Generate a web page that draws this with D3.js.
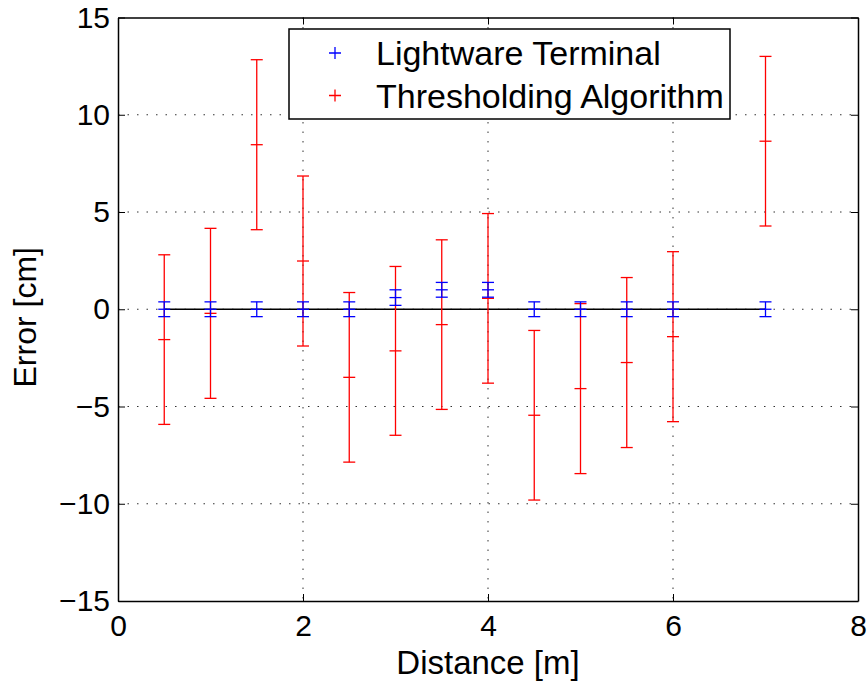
<!DOCTYPE html>
<html>
<head>
<meta charset="utf-8">
<script src="https://cdn.jsdelivr.net/npm/d3@7"></script>
<style>
    body { margin: 0; background: #fff; }
    text { font-family: "Liberation Sans", Arial, Helvetica, sans-serif; fill: #000; }
</style>
</head>
<body>
<div id="chart"></div>
<script>
// distances [m]
var distances = [0.5, 1, 1.5, 2, 2.5, 3, 3.5, 4, 4.5, 5, 5.5, 6, 7];

// Lightware Terminal: mean error and error bar half length [cm]
var lightwareMean = [0, 0, 0, 0, 0, 0.6, 1.0, 1.0, 0, 0, 0, 0, 0];
var lightwareErr = [0.38, 0.38, 0.38, 0.38, 0.38, 0.4, 0.38, 0.38, 0.38, 0.38, 0.38, 0.38, 0.38];

// Thresholding Algorithm
var threshMean = [-1.56, -0.21, 8.46, 2.48, -3.5, -2.14, -0.79, 0.56, -5.45, -4.08, -2.74, -1.41, 8.64];
var threshErr = [4.36, 4.37, 4.37, 4.37, 4.36, 4.34, 4.36, 4.36, 4.36, 4.37, 4.37, 4.37, 4.36];

var xTicks = [0, 2, 4, 6, 8];
var yTicks = [-15, -10, -5, 0, 5, 10, 15];

var seriesNames = ["Lightware Terminal", "Thresholding Algorithm"];
var seriesColors = ["#0000ff", "#ff0000"];

var width = 867, height = 683;
var margin = {top: 17.5, right: 9, bottom: 82, left: 118};

var svg = d3.select("#chart")
    .append("svg")
    .attr("width", width)
    .attr("height", height);

var x = d3.scaleLinear()
    .domain([0, 8])
    .range([margin.left, width - margin.right]);

var y = d3.scaleLinear()
    .domain([-15, 15])
    .range([height - margin.bottom, margin.top]);

// dotted grid
svg.append("g")
    .selectAll("line")
    .data(xTicks.slice(1, -1))
    .enter().append("line")
    .attr("x1", function (d) { return x(d); })
    .attr("x2", function (d) { return x(d); })
    .attr("y1", y(15))
    .attr("y2", y(-15))
    .attr("stroke", "#333")
    .attr("stroke-width", 1)
    .attr("stroke-dasharray", "1.5,8");

svg.append("g")
    .selectAll("line")
    .data(yTicks.slice(1, -1))
    .enter().append("line")
    .attr("x1", x(0))
    .attr("x2", x(8))
    .attr("y1", function (d) { return y(d); })
    .attr("y2", function (d) { return y(d); })
    .attr("stroke", "#333")
    .attr("stroke-width", 1)
    .attr("stroke-dasharray", "1.5,8");

// axes with inward ticks on all four sides
var tickLen = 7;
svg.append("g")
    .attr("transform", "translate(0," + y(-15) + ")")
    .call(d3.axisBottom(x).tickValues(xTicks).tickSizeInner(-tickLen).tickSizeOuter(0).tickPadding(14))
    .call(function (g) {
        g.select(".domain").attr("stroke-width", 1.5);
        g.selectAll("text").style("font-size", "30px");
    });

svg.append("g")
    .attr("transform", "translate(0," + y(15) + ")")
    .call(d3.axisTop(x).tickValues(xTicks).tickSizeInner(-tickLen).tickSizeOuter(0).tickFormat(""))
    .call(function (g) { g.select(".domain").attr("stroke-width", 1.5); });

svg.append("g")
    .attr("transform", "translate(" + x(0) + ",0)")
    .call(d3.axisLeft(y).tickValues(yTicks).tickSizeInner(-tickLen).tickSizeOuter(0).tickPadding(8)
        .tickFormat(function (d) { return d < 0 ? "\u2212" + Math.abs(d) : d; }))
    .call(function (g) {
        g.select(".domain").attr("stroke-width", 1.5);
        g.selectAll("text").style("font-size", "30px");
    });

svg.append("g")
    .attr("transform", "translate(" + x(8) + ",0)")
    .call(d3.axisRight(y).tickValues(yTicks).tickSizeInner(-tickLen).tickSizeOuter(0).tickFormat(""))
    .call(function (g) { g.select(".domain").attr("stroke-width", 1.5); });

// zero reference line
svg.append("line")
    .attr("x1", x(d3.min(distances)))
    .attr("x2", x(d3.max(distances)))
    .attr("y1", y(0))
    .attr("y2", y(0))
    .attr("stroke", "#000")
    .attr("stroke-width", 1.6);

// error bars
var cap = 6;
function drawErrorBars(means, errs, color) {
    var rows = distances.map(function (d, i) {
        return {x: d, m: means[i], e: errs[i]};
    });
    var g = svg.append("g")
        .attr("stroke", color)
        .attr("stroke-width", 1.3)
        .attr("fill", "none");
    var bars = g.selectAll("g")
        .data(rows)
        .enter().append("g");
    bars.append("line")
        .attr("x1", function (d) { return x(d.x); })
        .attr("x2", function (d) { return x(d.x); })
        .attr("y1", function (d) { return y(d.m - d.e); })
        .attr("y2", function (d) { return y(d.m + d.e); });
    [-1, 0, 1].forEach(function (k) {
        bars.append("line")
            .attr("x1", function (d) { return x(d.x) - cap; })
            .attr("x2", function (d) { return x(d.x) + cap; })
            .attr("y1", function (d) { return y(d.m + k * d.e); })
            .attr("y2", function (d) { return y(d.m + k * d.e); });
    });
}
drawErrorBars(threshMean, threshErr, seriesColors[1]);
drawErrorBars(lightwareMean, lightwareErr, seriesColors[0]);

// axis labels
svg.append("text")
    .attr("x", (x(0) + x(8)) / 2)
    .attr("y", 674)
    .attr("text-anchor", "middle")
    .style("font-size", "33px")
    .text("Distance [m]");

svg.append("text")
    .attr("transform", "translate(36," + (y(0) + 8) + ") rotate(-90)")
    .attr("text-anchor", "middle")
    .style("font-size", "32px")
    .text("Error [cm]");

// legend
var legend = svg.append("g");
legend.append("rect")
    .attr("x", 289)
    .attr("y", 29)
    .attr("width", 441)
    .attr("height", 90)
    .attr("fill", "#fff")
    .attr("stroke", "#000")
    .attr("stroke-width", 1.5);

var items = legend.selectAll("g.item")
    .data(seriesNames)
    .enter().append("g")
    .attr("class", "item")
    .attr("transform", function (d, i) { return "translate(335," + (53 + i * 42.5) + ")"; });

items.append("path")
    .attr("d", "M-6,0H6M0,-6V6")
    .attr("stroke", function (d, i) { return seriesColors[i]; })
    .attr("stroke-width", 1.3);

items.append("text")
    .attr("x", 41)
    .attr("dy", "0.36em")
    .style("font-size", "34px")
    .text(function (d) { return d; });
</script>
</body>
</html>
